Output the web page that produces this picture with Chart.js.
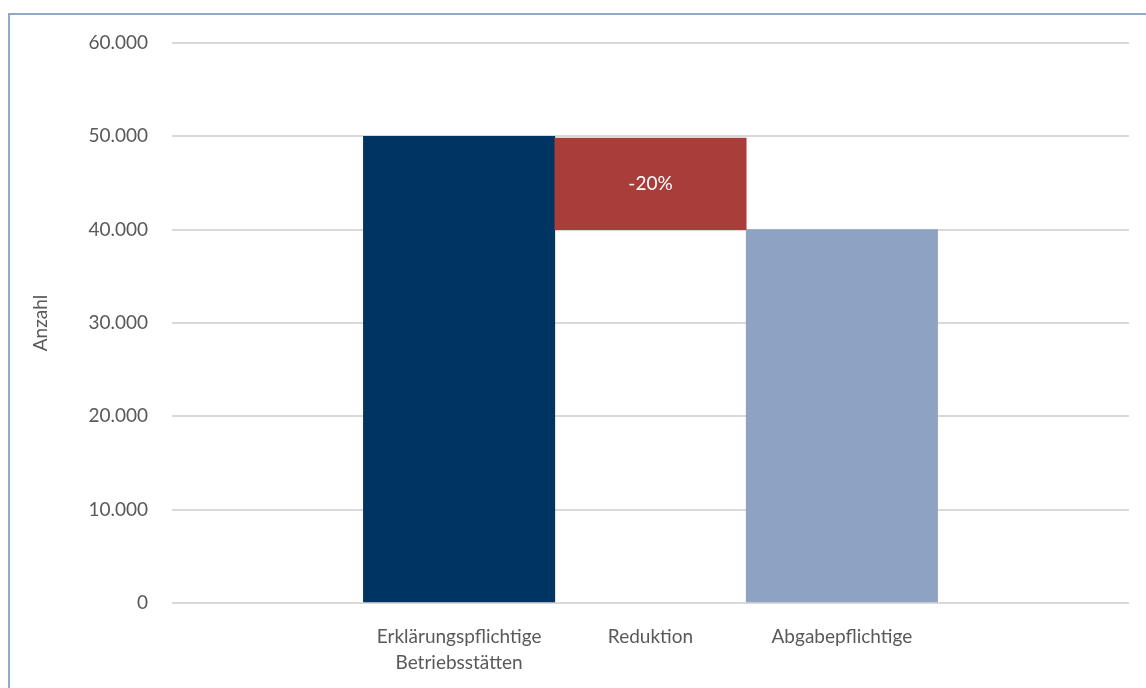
<!DOCTYPE html>
<html>
<head>
<meta charset="utf-8">
<script src="https://cdn.jsdelivr.net/npm/chart.js@4.4.0/dist/chart.umd.min.js"></script>
<style>
  html, body { margin: 0; padding: 0; background: #ffffff; overflow: hidden; }
  #wrap { position: relative; width: 1146px; height: 688px; }
  #frame { position: absolute; left: 8px; top: 13px; width: 1160px; height: 700px; border: 2px solid #8fa9cc; box-sizing: border-box; }
  #chart { position: absolute; left: 0; top: 0; }
</style>
</head>
<body>
<div id="wrap">
  <div id="frame"></div>
  <canvas id="chart" width="1146" height="688"></canvas>
</div>
<script>
// blank first/last slots keep the bars in the middle like the original
var categories = ['', ['Erklärungspflichtige', 'Betriebsstätten'], 'Reduktion', 'Abgabepflichtige', ''];
var barValues = [null, [0, 50000], [40000, 49800], [0, 40000], null];
var barLabels = ['', '', '-20%', '', ''];
var barColors = ['#ffffff', '#003462', '#a83d3a', '#8ea2c3', '#ffffff'];
var yTicks = [0, 10000, 20000, 30000, 40000, 50000, 60000];

var fontFamily = 'Lato, "Open Sans", sans-serif';

// writes the percentage in the middle of the reduction bar
var barTextPlugin = {
    id: 'barText',
    afterDatasetsDraw: function(chart) {
        var ctx = chart.ctx;
        var meta = chart.getDatasetMeta(0);
        ctx.save();
        ctx.fillStyle = '#ffffff';
        ctx.font = '19px ' + fontFamily;
        ctx.textAlign = 'center';
        ctx.textBaseline = 'middle';
        meta.data.forEach(function(bar, i) {
            if (!barLabels[i]) return;
            var p = bar.getProps(['x', 'y', 'base'], true);
            ctx.fillText(barLabels[i], p.x, (p.y + p.base) / 2);
        });
        ctx.restore();
    }
};

var myChart = new Chart(document.getElementById('chart').getContext('2d'), {
    type: 'bar',
    data: {
        labels: categories,
        datasets: [{
            label: 'Anzahl',
            data: barValues,
            backgroundColor: barColors,
            borderWidth: 0,
            categoryPercentage: 1.0,
            barPercentage: 1.0
        }]
    },
    options: {
        responsive: false,
        animation: false,
        layout: { padding: { top: 43, right: 17, left: 0, bottom: 0 } },
        plugins: {
            legend: { display: false },
            tooltip: { enabled: false }
        },
        scales: {
            x: {
                grid: { display: false },
                border: { display: false },
                ticks: {
                    color: '#595959',
                    font: { family: fontFamily, size: 19, lineHeight: 1.35 },
                    maxRotation: 0,
                    padding: 13
                },
                afterFit: function(scale) { scale.height = 85; }
            },
            y: {
                min: 0,
                max: 60000,
                afterBuildTicks: function(scale) {
                    scale.ticks = yTicks.map(function(v) { return { value: v }; });
                },
                grid: { color: '#d9d9d9', lineWidth: 2, drawTicks: false },
                border: { display: false },
                ticks: {
                    color: '#595959',
                    font: { family: fontFamily, size: 19 },
                    padding: 24,
                    callback: function(v) { return v.toLocaleString('de-DE'); }
                },
                title: {
                    display: true,
                    text: 'Anzahl',
                    color: '#595959',
                    font: { family: fontFamily, size: 19 },
                    padding: { top: 29, bottom: 0 }
                },
                afterFit: function(scale) { scale.width = 172; }
            }
        }
    },
    plugins: [barTextPlugin]
});
</script>
</body>
</html>
